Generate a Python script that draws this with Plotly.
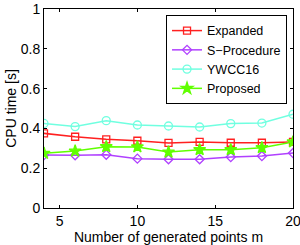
import plotly.graph_objects as go

m_points = [2, 4, 6, 8, 10, 12, 14, 16, 18, 20]
expanded = [0.392, 0.375, 0.358, 0.345, 0.338, 0.327, 0.332, 0.328, 0.328, 0.332]
s_procedure = [0.267, 0.266, 0.265, 0.268, 0.248, 0.245, 0.245, 0.256, 0.261, 0.276]
ywcc16 = [0.44, 0.425, 0.409, 0.439, 0.417, 0.412, 0.407, 0.424, 0.427, 0.471]
proposed = [0.264, 0.275, 0.286, 0.308, 0.307, 0.281, 0.293, 0.293, 0.303, 0.332]

series = [
    ("Expanded", expanded, "#ff2020", "square-open", 7),
    ("S\u2212Procedure", s_procedure, "#b040ff", "diamond-open", 7),
    ("YWCC16", ywcc16, "#70ffe0", "circle-open", 8),
    ("Proposed", proposed, "#60ff00", "star", 9),
]

fig = go.Figure()
for name, vals, color, sym, size in series:
    fig.add_trace(go.Scatter(
        x=m_points, y=vals, name=name, mode="lines+markers",
        line=dict(color=color, width=1.5),
        marker=dict(symbol=sym, size=size, color=color, line=dict(color=color, width=1.3)),
        cliponaxis=True,
    ))

axis_common = dict(
    showline=True, linecolor="black", linewidth=1, mirror="ticks",
    ticks="inside", ticklen=3, tickcolor="black", showgrid=False, zeroline=False,
    tickfont=dict(size=14, color="black"), automargin=False, ticklabeloverflow="allow",
)
fig.update_xaxes(range=[4, 20], tickvals=[5, 10, 15, 20],
                 title=dict(text="Number of generated points m", font=dict(size=14, color="black"), standoff=0),
                 **axis_common)
fig.update_yaxes(range=[0, 1], tickvals=[0, 0.2, 0.4, 0.6, 0.8, 1], ticktext=["0", "0.2", "0.4", "0.6", "0.8", "1"],
                 title=dict(text="CPU time [s]", font=dict(size=14, color="black"), standoff=0),
                 **axis_common)
fig.update_layout(
    width=300, height=245,
    margin=dict(l=44, r=7, t=9, b=37, autoexpand=False),
    paper_bgcolor="white", plot_bgcolor="white",
    font=dict(family="Liberation Sans, Arial, sans-serif", size=14, color="black"),
    legend=dict(x=0.976, y=0.97, xanchor="right", yanchor="top",
                bgcolor="white", bordercolor="black", borderwidth=1,
                font=dict(size=12.5), tracegroupgap=0, itemwidth=30),
    showlegend=True,
)
fig.write_html("out.html", config={"displayModeBar": False},
               post_script="document.body.style.margin='0';document.body.style.overflow='hidden';")
